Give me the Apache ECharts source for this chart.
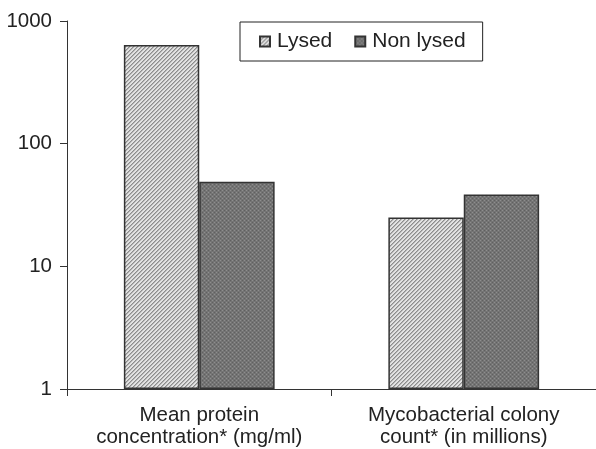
<!DOCTYPE html>
<html>
<head>
<meta charset="utf-8">
<script src="https://cdn.jsdelivr.net/npm/echarts@6/dist/echarts.min.js"></script>
<style>
  html, body { margin: 0; padding: 0; background: #fff; }
  #chart { width: 596px; height: 449px; }
</style>
</head>
<body>
<div id="chart"></div>
<script>
const categories = ['Mean protein\nconcentration* (mg/ml)', 'Mycobacterial colony\ncount* (in millions)'];
const seriesNames = ['Lysed', 'Non lysed'];
const lysedValues = [637, 25];
const nonLysedValues = [49, 38.5];
const yTicks = [1, 10, 100, 1000];

function makeHatch() {
  const c = document.createElement('canvas');
  c.width = 4; c.height = 4;
  const g = c.getContext('2d');
  g.fillStyle = '#e2e2e2';
  g.fillRect(0, 0, 4, 4);
  g.fillStyle = '#8c8c8c';
  for (let i = 0; i < 4; i++) {
    g.fillRect(i, 3 - i, 1, 1);
  }
  g.fillStyle = '#b4b4b4';
  for (let i = 0; i < 4; i++) {
    g.fillRect((i + 1) % 4, 3 - i, 1, 1);
  }
  return c;
}
function makeDots() {
  const c = document.createElement('canvas');
  c.width = 4; c.height = 4;
  const g = c.getContext('2d');
  g.fillStyle = '#747474';
  g.fillRect(0, 0, 4, 4);
  g.fillStyle = '#8e8e8e';
  g.fillRect(0, 0, 1, 1);
  g.fillRect(2, 2, 1, 1);
  g.fillStyle = '#606060';
  g.fillRect(2, 0, 1, 1);
  g.fillRect(0, 2, 1, 1);
  return c;
}
const hatch = { image: makeHatch(), repeat: 'repeat' };
const dots = { image: makeDots(), repeat: 'repeat' };

const chart = echarts.init(document.getElementById('chart'), null, { renderer: 'canvas' });
const font = 'Liberation Sans, Arial, sans-serif';
chart.setOption({
  animation: false,
  backgroundColor: '#fff',
  textStyle: { fontFamily: font },
  grid: { left: 67, right: -3, top: 21, bottom: 60, containLabel: false },
  legend: {
    data: seriesNames,
    left: 240, top: 22,
    itemWidth: 10, itemHeight: 10,
    itemGap: 22,
    padding: [9, 17, 9, 19],
    borderColor: '#222', borderWidth: 1,
    icon: 'rect',
    textStyle: { fontFamily: font, fontSize: 21, color: '#222', padding: [0, 0, 0, 2] }
  },
  xAxis: {
    type: 'category',
    data: categories,
    axisLine: { lineStyle: { color: '#333', width: 1 } },
    axisTick: { show: true, interval: 0, length: 7, lineStyle: { color: '#333' } },
    axisLabel: { interval: 0, hideOverlap: false, fontSize: 20.5, color: '#222', lineHeight: 22, margin: 15, fontFamily: font }
  },
  yAxis: {
    type: 'log',
    logBase: 10,
    min: 1, max: 1000,
    axisLine: { show: true, lineStyle: { color: '#333', width: 1 } },
    axisTick: { show: true, length: 7, lineStyle: { color: '#333' } },
    splitLine: { show: false },
    axisLabel: { fontSize: 20.5, color: '#222', margin: 15, fontFamily: font,
      formatter: v => (yTicks.indexOf(Math.round(v)) >= 0 ? String(Math.round(v)) : '') }
  },
  series: [
    {
      name: seriesNames[0], type: 'bar', data: lysedValues,
      barGap: '0%', barCategoryGap: '43%',
      itemStyle: { color: hatch, borderColor: '#333', borderWidth: 1.5 }
    },
    {
      name: seriesNames[1], type: 'bar', data: nonLysedValues,
      barGap: '0%', barCategoryGap: '43%',
      itemStyle: { color: dots, borderColor: '#333', borderWidth: 1.5 }
    }
  ]
});
</script>
</body>
</html>
